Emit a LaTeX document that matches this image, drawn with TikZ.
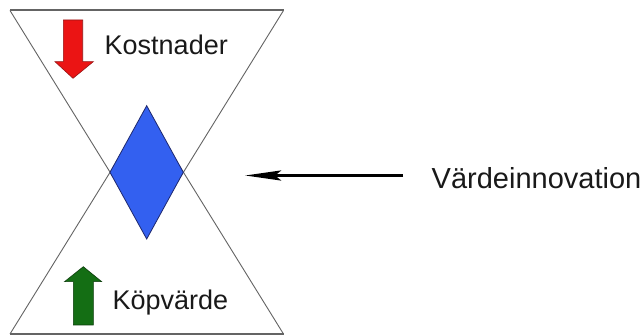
\documentclass[tikz,border=0pt]{standalone}
\usepackage{fontspec}
\setmainfont{Liberation Sans}
\usetikzlibrary{arrows.meta}
\definecolor{diafill}{RGB}{51,96,240}
\definecolor{diaedge}{RGB}{30,40,110}
\definecolor{redfill}{RGB}{235,20,20}
\definecolor{rededge}{RGB}{150,20,20}
\definecolor{greenfill}{RGB}{20,110,20}
\definecolor{greenedge}{RGB}{10,60,10}
\definecolor{linegray}{RGB}{100,100,100}
\tikzset{
  tri/.style={draw=linegray, line width=0.9pt, line join=miter},
  edgeline/.style={draw=linegray, line width=2pt},
  diam/.style={fill=diafill, draw=diaedge, line width=0.8pt},
  redarrow/.style={fill=redfill, draw=rededge, line width=0.6pt},
  greenarrow/.style={fill=greenfill, draw=greenedge, line width=0.6pt},
  lbl/.style={anchor=base west, inner sep=0pt, font=\fontsize{27}{30}\selectfont, text=black!90},
  biglbl/.style={anchor=base west, inner sep=0pt, font=\fontsize{29}{32}\selectfont, text=black!90},
  conn/.style={line width=3.5pt, -{Stealth[length=36pt, width=10pt, inset=6pt]}}
}
\begin{document}
\begin{tikzpicture}[x=1pt, y=-1pt]
\useasboundingbox (0,0) rectangle (643,336);
\fill[white] (0,0) rectangle (643,336);
% triangles
\coordinate (tl) at (10,10.5);
\coordinate (tr) at (283.5,10.5);
\coordinate (bl) at (10,334);
\coordinate (br) at (283.5,334);
\coordinate (dtop) at (146.7,105.7);
\coordinate (dbot) at (146.7,239);
\coordinate (dleft) at (110,172.3);
\coordinate (dright) at (183.3,172.3);
\coordinate (topapex) at (146.75,231.5);
\coordinate (botapex) at (146.75,113);
\draw[tri] (tl) -- (topapex) -- (tr);
\draw[tri] (bl) -- (botapex) -- (br);
\draw[edgeline] (tl) -- (tr);
\draw[edgeline] (bl) -- (br);
% diamond
\draw[diam] (dtop) -- (dright) -- (dbot) -- (dleft) -- cycle;
% red down arrow
\draw[redarrow] (63.3,20) -- (82.7,20) -- (82.7,61.7) -- (93.3,61.7) -- (73,78.3) -- (55,61.7) -- (63.3,61.7) -- cycle;
% green up arrow
\draw[greenarrow] (73.3,325) -- (93.3,325) -- (93.3,281.7) -- (101.7,281.7) -- (83.3,266.7) -- (64.5,281.7) -- (73.3,281.7) -- cycle;
% labels
\node[lbl] (kost) at (104.5,54.3) {Kostnader};
\node[lbl] (kop) at (112.5,310) {Köpvärde};
\node[biglbl] (val) at (431.5,189) {Värdeinnovation};
% connector
\coordinate (arrS) at (403,175.5);
\coordinate (arrE) at (245,175.5);
\draw[conn] (arrS) -- (arrE);
\end{tikzpicture}
\end{document}
